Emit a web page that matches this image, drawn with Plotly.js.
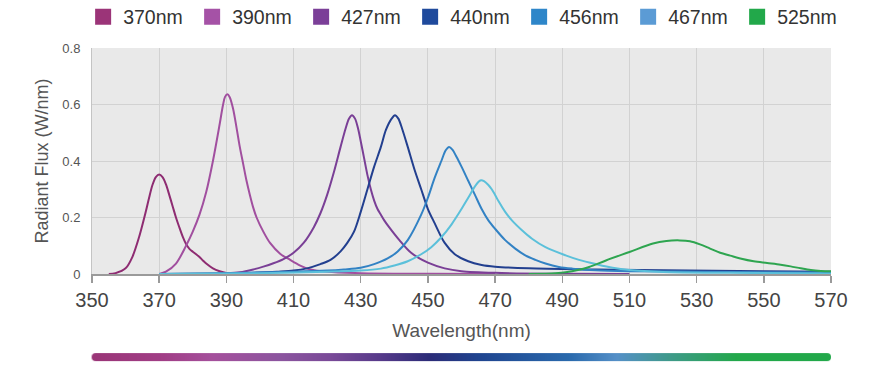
<!DOCTYPE html>
<html>
<head>
<meta charset="utf-8">
<script src="https://cdn.plot.ly/plotly-3.0.1.min.js"></script>
<style>html,body{margin:0;padding:0;background:#fff;}#chart{width:880px;height:368px;}</style>
</head>
<body>
<div id="chart"></div>
<script>
// ---- data ----
const seriesNames = ["370nm", "390nm", "427nm", "440nm", "456nm", "467nm", "525nm"];

const x370 = [355, 357, 360, 362, 364, 366, 367, 368, 369, 370, 371, 372, 373, 374, 375, 376, 377, 378, 379, 380, 381, 382, 383, 384, 386, 388, 390, 395, 400];
const y370 = [0, 0.003, 0.02, 0.06, 0.13, 0.22, 0.27, 0.315, 0.343, 0.352, 0.343, 0.318, 0.28, 0.24, 0.2, 0.165, 0.132, 0.106, 0.089, 0.079, 0.07, 0.06, 0.048, 0.037, 0.02, 0.01, 0.004, 0.001, 0];

const x390 = [370, 372, 375, 378, 380, 382, 384, 386, 388, 389, 389.6, 390.3, 391, 392, 393, 394, 395, 396, 397, 398, 399, 401, 403, 406, 409, 412, 415, 420, 430, 450, 470];
const y390 = [0, 0.008, 0.037, 0.1, 0.15, 0.21, 0.29, 0.4, 0.53, 0.598, 0.627, 0.636, 0.626, 0.585, 0.52, 0.45, 0.39, 0.33, 0.28, 0.235, 0.2, 0.15, 0.11, 0.072, 0.05, 0.03, 0.016, 0.008, 0.003, 0.001, 0];

const x427 = [385, 390, 394, 398, 401, 404, 407, 410, 413, 416, 418, 420, 422, 424, 425.5, 426.5, 427.4, 428.3, 429.2, 430, 431, 432, 433, 434, 435, 436, 437, 438.5, 441.5, 445, 450, 455, 460, 470, 490, 510];
const y427 = [0, 0.002, 0.006, 0.016, 0.026, 0.038, 0.053, 0.075, 0.11, 0.165, 0.215, 0.28, 0.36, 0.45, 0.515, 0.55, 0.562, 0.55, 0.515, 0.47, 0.41, 0.35, 0.3, 0.26, 0.23, 0.21, 0.19, 0.165, 0.12, 0.075, 0.04, 0.02, 0.01, 0.004, 0.001, 0];

const x440 = [370, 390, 400, 405, 410, 414, 418, 421, 424, 426, 428, 430, 432, 434, 436, 437.5, 439.2, 440.2, 441.2, 442.3, 444, 446, 448, 450, 452, 455, 458, 462, 466, 470, 480, 500, 520, 550, 570];
const y440 = [0, 0.002, 0.005, 0.008, 0.012, 0.02, 0.035, 0.05, 0.08, 0.11, 0.15, 0.22, 0.3, 0.38, 0.45, 0.51, 0.55, 0.562, 0.55, 0.515, 0.45, 0.37, 0.3, 0.23, 0.18, 0.11, 0.07, 0.045, 0.032, 0.026, 0.02, 0.016, 0.013, 0.01, 0.008];

const x456 = [370, 390, 410, 420, 425, 430, 434, 438, 441, 444, 448, 450, 452, 454, 455.3, 456.3, 457.3, 458.5, 460, 462, 464, 466, 468, 470, 473, 476, 479, 482, 485, 489, 493, 500, 510, 530, 570];
const y456 = [0, 0.003, 0.008, 0.012, 0.016, 0.022, 0.035, 0.055, 0.08, 0.12, 0.21, 0.27, 0.34, 0.4, 0.438, 0.45, 0.44, 0.415, 0.38, 0.33, 0.28, 0.23, 0.19, 0.16, 0.12, 0.09, 0.066, 0.05, 0.037, 0.025, 0.019, 0.013, 0.01, 0.008, 0.005];

const x467 = [370, 400, 420, 430, 436, 440, 444, 448, 451, 454, 457, 460, 462, 464, 465, 465.8, 466.7, 468, 469, 470, 471, 473, 475, 478, 481, 485, 491, 495, 500, 505, 510, 520, 540, 570];
const y467 = [0, 0.003, 0.008, 0.012, 0.019, 0.03, 0.045, 0.07, 0.095, 0.13, 0.175, 0.23, 0.27, 0.31, 0.326, 0.332, 0.329, 0.315, 0.3, 0.28, 0.258, 0.22, 0.19, 0.155, 0.125, 0.095, 0.066, 0.05, 0.035, 0.022, 0.014, 0.007, 0.004, 0.002];

const x525 = [480, 488, 491, 495, 498, 503, 510, 517, 521, 525, 528, 531, 534, 537, 540, 543, 547, 551, 555, 558, 561, 564, 567, 570];
const y525 = [0, 0.003, 0.006, 0.015, 0.025, 0.048, 0.078, 0.108, 0.117, 0.119, 0.116, 0.105, 0.09, 0.075, 0.065, 0.055, 0.045, 0.039, 0.033, 0.027, 0.02, 0.014, 0.011, 0.01];

const xTickVals = [350, 370, 390, 410, 430, 450, 470, 490, 510, 530, 550, 570];
const yTickVals = [0, 0.2, 0.4, 0.6, 0.8];
const yTickText = ["0", "0.2", "0.4", "0.6", "0.8"];

// ---- styles ----
const xs = [x370, x390, x427, x440, x456, x467, x525];
const ys = [y370, y390, y427, y440, y456, y467, y525];
const lineColors = ["#8e2c72", "#a14f9f", "#7a3f96", "#223f8f", "#3282c4", "#5bc0da", "#2ea550"];
const legendColors = ["#9b3478", "#a552a6", "#7b3f98", "#1f4a9c", "#2e86c9", "#5b9bd5", "#22a84a"];

const FONT = "Liberation Sans, Arial, Helvetica, sans-serif";
const traces = [];
for (let i = 0; i < seriesNames.length; i++) {
  traces.push({
    type: "scatter", mode: "lines", x: xs[i], y: ys[i], name: seriesNames[i],
    line: {color: lineColors[i], width: 2, shape: "spline", smoothing: 0.9},
    showlegend: false, hoverinfo: "skip"
  });
}
for (let i = 0; i < seriesNames.length; i++) {
  traces.push({
    type: "scatter", mode: "markers", x: [null], y: [null], name: seriesNames[i],
    marker: {symbol: "square", size: 16, color: legendColors[i]},
    showlegend: true, hoverinfo: "skip"
  });
}

// gradient bar image
function gradientBar() {
  const c = document.createElement("canvas");
  c.width = 740; c.height = 8;
  const g = c.getContext("2d");
  const grad = g.createLinearGradient(0, 0, 740, 0);
  const stops = [[0, "#9a3577"], [0.095, "#a13e86"], [0.163, "#a5509c"], [0.254, "#8c559f"], [0.322, "#7a4a98"],
    [0.39, "#573a8a"], [0.457, "#2c2c78"], [0.525, "#1f4590"], [0.646, "#2a6aad"], [0.71, "#5590c8"],
    [0.782, "#3f9a8a"], [0.873, "#22a84a"], [1, "#22a84a"]];
  stops.forEach(s => grad.addColorStop(s[0], s[1]));
  g.fillStyle = grad;
  g.beginPath();
  const r = 4, w = 740, h = 8;
  g.moveTo(r, 0); g.lineTo(w - r, 0); g.arc(w - r, r, r, -Math.PI / 2, Math.PI / 2);
  g.lineTo(r, h); g.arc(r, r, r, Math.PI / 2, 3 * Math.PI / 2); g.closePath();
  g.fill();
  return c.toDataURL("image/png");
}

const layout = {
  width: 880, height: 368,
  margin: {l: 92, r: 49, t: 48, b: 94, autoexpand: false},
  paper_bgcolor: "#ffffff",
  plot_bgcolor: "#e9e9e9",
  font: {family: FONT, color: "#444"},
  showlegend: true,
  legend: {
    orientation: "h", x: -0.012, xanchor: "left", y: 1.137, yanchor: "middle",
    font: {size: 19.5, color: "#333", family: FONT},
    entrywidth: 64, entrywidthmode: "pixels", bgcolor: "rgba(0,0,0,0)", borderwidth: 0
  },
  xaxis: {
    range: [350, 570], tickvals: xTickVals, ticktext: xTickVals.map(String),
    showgrid: true, gridcolor: "#d2d2d2", gridwidth: 1,
    showline: true, linecolor: "#9a9a9a", linewidth: 2,
    ticks: "outside", ticklen: 7, tickwidth: 1.5, tickcolor: "#9a9a9a",
    tickfont: {size: 20, color: "#444", family: FONT},
    zeroline: false,
    title: {text: "Wavelength(nm)", font: {size: 19, color: "#555", family: FONT}, standoff: 14}
  },
  yaxis: {
    range: [0, 0.8], tickvals: yTickVals, ticktext: yTickText,
    showgrid: true, gridcolor: "#d2d2d2", gridwidth: 1,
    showline: true, linecolor: "#c4c4c4", linewidth: 1, mirror: false,
    ticks: "", ticklabelstandoff: 8,
    tickfont: {size: 13, color: "#555", family: FONT},
    zeroline: false,
    title: {text: "Radiant Flux (W/nm)", font: {size: 18, color: "#555", family: FONT}, standoff: 9}
  },
  images: [{
    source: gradientBar(), xref: "paper", yref: "paper",
    x: -0.0005, y: -0.35, sizex: 1.0005, sizey: 0.0355,
    xanchor: "left", yanchor: "top", sizing: "stretch", layer: "above"
  }]
};

Plotly.newPlot("chart", traces, layout, {displayModeBar: false, staticPlot: true});
</script>
</body>
</html>
